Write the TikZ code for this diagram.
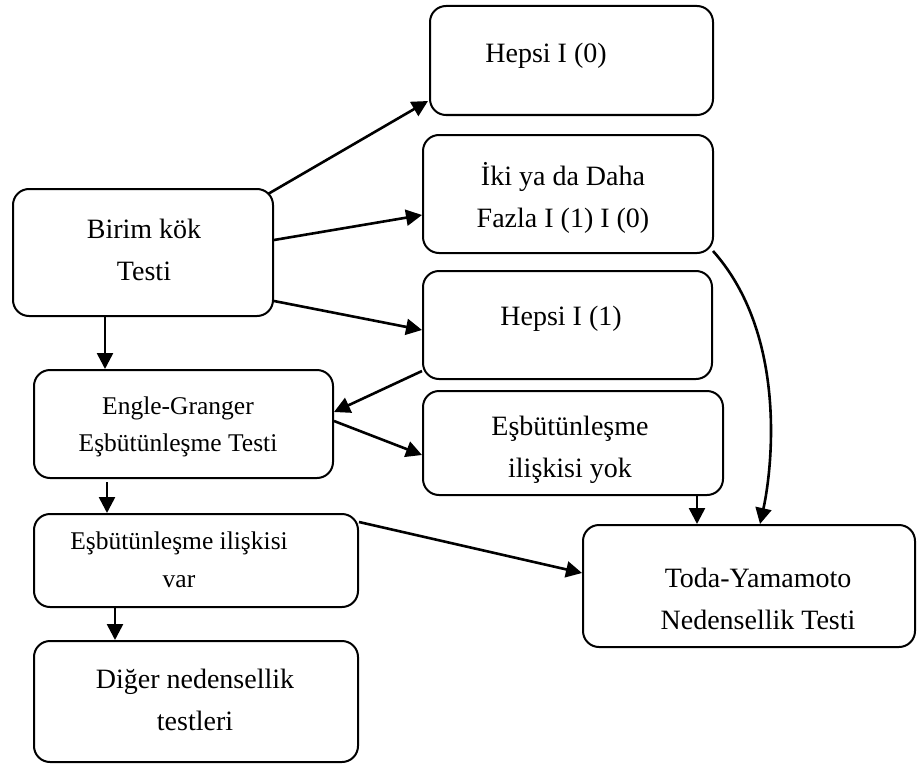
\documentclass[tikz,border=0pt]{standalone}
\usepackage{fontspec}
\setmainfont{Liberation Serif}
\usetikzlibrary{arrows.meta,calc}
\begin{document}
\begin{tikzpicture}[x=1pt,y=-1pt,
  box/.style={draw, line width=2pt, rounded corners=16pt, inner sep=0pt},
  big/.style={align=center, font=\fontsize{28}{41.5}\selectfont, inner sep=0pt},
  small/.style={align=center, font=\fontsize{25.5}{37.5}\selectfont, inner sep=0pt},
  arr/.style={line width=2.6pt, -{Triangle[length=16pt,width=16pt]}}]
\useasboundingbox (0,0) rectangle (917,765);
% boxes
\node[box, minimum width=283pt, minimum height=109pt] (h0) at (571.5,60.5) {};
\node[box, minimum width=290pt, minimum height=118pt] (iki) at (568,194) {};
\node[box, minimum width=260pt, minimum height=127pt] (bk) at (143,252.5) {};
\node[box, minimum width=289pt, minimum height=108pt] (h1) at (567.5,325) {};
\node[box, minimum width=299pt, minimum height=108pt] (eg) at (183.5,424) {};
\node[box, minimum width=300pt, minimum height=104pt] (yok) at (573,443) {};
\node[box, minimum width=324pt, minimum height=93pt] (var) at (196,560.5) {};
\node[box, minimum width=324pt, minimum height=121pt] (dg) at (196,701.5) {};
\node[box, minimum width=332pt, minimum height=122pt] (toda) at (749,586) {};
% texts
\node[big] (th0) at (546,56) {Hepsi I (0)};
\node[big] (tiki) at (563,198) {İki ya da Daha\\Fazla I (1) I (0)};
\node[big] (tbk) at (144,250) {Birim kök\\Testi};
\node[big] (th1) at (561,319) {Hepsi I (1)};
\node[small] (teg) at (178,427) {Engle-Granger\\Eşbütünleşme Testi};
\node[big] (tyok) at (570,450) {Eşbütünleşme\\ilişkisi yok};
\node[small] (tvar) at (179,560) {Eşbütünleşme ilişkisi\\var};
\node[big] (tdg) at (195,700) {Diğer nedensellik\\testleri};
\node[big] (ttoda) at (758,599) {Toda-Yamamoto\\Nedensellik Testi};
% connectors
\draw[arr] ($(bk.north east)+(-6,6)$) -- ($(h0.south west)+(-1,-15)$);
\draw[arr] ($(bk.east)+(0,-12.5)$) -- ($(iki.west)+(0,21)$);
\draw[arr] ($(bk.east)+(0,48.5)$) -- ($(h1.west)+(0,5)$);
\draw[arr] ($(bk.south)+(-38,0)$) coordinate (a1) -- (a1 |- eg.north);
\draw[arr] ($(h1.south west)+(0,-9)$) -- ($(eg.east)+(0,-12)$);
\draw[arr] ($(eg.east)+(0,-3)$) -- ($(yok.west)+(0,12)$);
\draw[arr] ($(eg.south)+(-76.5,3)$) coordinate (a2) -- (a2 |- var.north);
\draw[arr] ($(var.north east)+(0,9)$) -- ($(toda.west)+(0,-13)$);
\draw[arr] ($(var.south)+(-81,0)$) coordinate (a3) -- (a3 |- dg.north);
\draw[arr] ($(yok.south)+(124,0)$) coordinate (a4) -- (a4 |- toda.north);
\draw[arr] ($(iki.south east)+(-1,-3)$) .. controls (788,335) and (772,470) .. ($(toda.north)+(11,0)$);
\end{tikzpicture}
\end{document}
